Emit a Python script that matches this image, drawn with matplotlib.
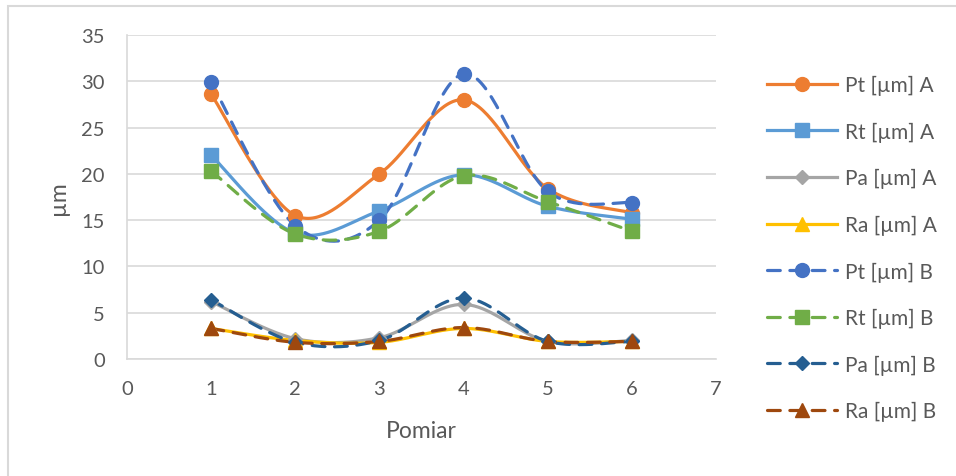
import numpy as np
import matplotlib
matplotlib.use("Agg")
import matplotlib.pyplot as plt
from matplotlib.lines import Line2D
from matplotlib.patches import Rectangle

plt.rcParams['font.family'] = ['Lato', 'DejaVu Sans']

# Measurement index
pomiar = [1, 2, 3, 4, 5, 6]

# Surface roughness parameters, sample A
pt_a = [28.6, 15.5, 20.0, 28.0, 18.4, 15.8]
rt_a = [22.0, 13.6, 16.0, 19.9, 16.5, 15.1]
pa_a = [6.2, 2.2, 2.3, 5.9, 1.9, 2.0]
ra_a = [3.3, 2.0, 1.8, 3.3, 1.9, 1.9]

# Surface roughness parameters, sample B
pt_b = [29.9, 14.4, 15.0, 30.8, 18.1, 16.9]
rt_b = [20.3, 13.5, 13.8, 19.8, 17.0, 13.8]
pa_b = [6.4, 1.8, 2.0, 6.6, 1.9, 1.9]
ra_b = [3.3, 1.8, 1.9, 3.4, 1.9, 1.9]

labels = ["Pt [µm] A", "Rt [µm] A", "Pa [µm] A", "Ra [µm] A",
          "Pt [µm] B", "Rt [µm] B", "Pa [µm] B", "Ra [µm] B"]
series = [pt_a, rt_a, pa_a, ra_a, pt_b, rt_b, pa_b, ra_b]
colors = ["#ED7D31", "#5B9BD5", "#A5A5A5", "#FFC000",
          "#4472C4", "#70AD47", "#255E91", "#9E480E"]
markers = ["o", "s", "D", "^", "o", "s", "D", "^"]
msizes = [10, 9.5, 7.5, 9.5, 10, 9.5, 7.5, 9.5]
dashed = [False] * 4 + [True] * 4


def smooth(x, y, n=40):
    """Cubic Bezier smoothing through every point (spreadsheet-style)."""
    x = np.asarray(x, float)
    y = np.asarray(y, float)
    px = np.concatenate([[x[0]], x, [x[-1]]])
    py = np.concatenate([[y[0]], y, [y[-1]]])
    t = np.linspace(0, 1, n)[:, None]
    xs, ys = [], []
    for i in range(len(x) - 1):
        p0 = np.array([px[i + 1], py[i + 1]])
        p3 = np.array([px[i + 2], py[i + 2]])
        c1 = p0 + (p3 - np.array([px[i], py[i]])) / 6.0
        c2 = p3 - (np.array([px[i + 3], py[i + 3]]) - p0) / 6.0
        b = ((1 - t) ** 3) * p0 + 3 * ((1 - t) ** 2) * t * c1 \
            + 3 * (1 - t) * t ** 2 * c2 + t ** 3 * p3
        xs.append(b[:, 0])
        ys.append(b[:, 1])
    return np.concatenate(xs), np.concatenate(ys)


fig = plt.figure(figsize=(9.56, 4.77), dpi=100)
ax = fig.add_axes([127 / 956, 1 - 360 / 477, (716 - 127) / 956, (360 - 36) / 477])

lw = 2.3
handles = []
for y, c, m, ms, d in zip(series, colors, markers, msizes, dashed):
    sx, sy = smooth(pomiar, y)
    ls_kw = dict(linestyle=(0, (4, 3)), dash_capstyle='round') if d else dict(linestyle='-')
    ax.plot(sx, sy, color=c, lw=lw, solid_capstyle='round', **ls_kw, zorder=3)
    ax.plot(pomiar, y, linestyle='none', marker=m, ms=ms, color=c,
            markeredgecolor=c, zorder=4)
    handles.append(Line2D([], [], color=c, lw=lw, marker=m, ms=ms,
                          markeredgecolor=c, **ls_kw))

ax.set_xlim(0, 7)
ax.set_ylim(0, 35)
ax.set_xticks(range(0, 8))
ax.set_yticks(range(0, 36, 5))
ax.grid(axis='y', color='#D9D9D9', lw=1.2)
ax.grid(axis='x', visible=False)
ax.set_axisbelow(True)
for s in ['top', 'right']:
    ax.spines[s].set_visible(False)
for s in ['left', 'bottom']:
    ax.spines[s].set_color('#D9D9D9')
    ax.spines[s].set_linewidth(1.2)
ax.tick_params(length=0, labelsize=14.5, colors='#595959')
ax.tick_params(axis='x', pad=15)
ax.tick_params(axis='y', pad=16)
ax.set_xlabel("Pomiar", fontsize=16.5, color='#595959', labelpad=17)
ax.set_ylabel("µm", fontsize=16.5, color='#595959', labelpad=9)

fig.legend(handles, labels, loc='upper left',
           bbox_to_anchor=(767 / 956, 1 - 76 / 477), frameon=False,
           fontsize=15, labelcolor='#595959', handlelength=3.36,
           handletextpad=0.38, labelspacing=1.27, borderpad=0, borderaxespad=0)

# Chart-area border
fig.patches.append(Rectangle((8 / 956, -0.2), 1.2, 1.2 - 7 / 477,
                             transform=fig.transFigure, fill=False,
                             edgecolor='#D9D9D9', lw=1.5, clip_on=False))

fig.savefig("out.png", dpi=100)
